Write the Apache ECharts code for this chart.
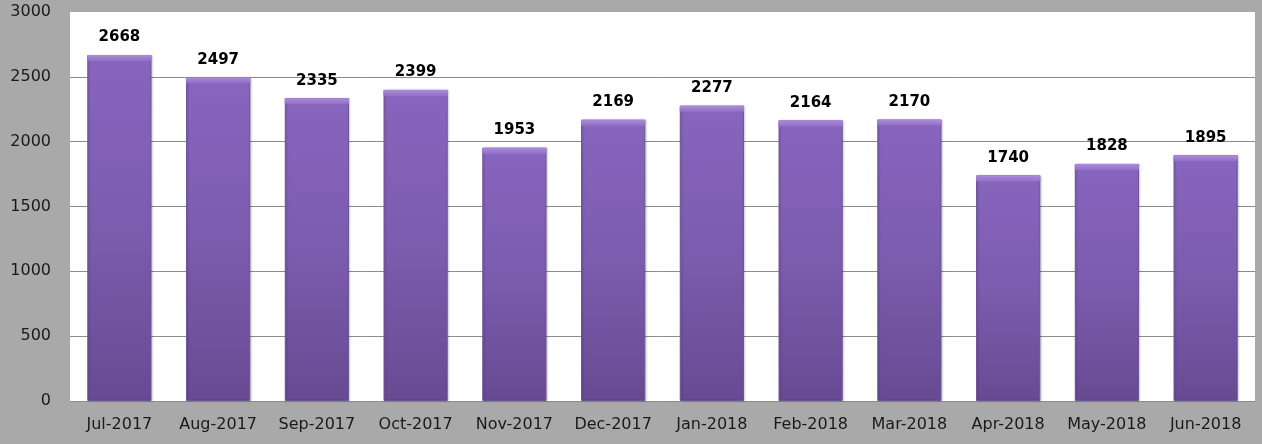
<!DOCTYPE html>
<html>
<head>
<meta charset="utf-8">
<script src="https://cdn.jsdelivr.net/npm/echarts@6/dist/echarts.min.js"></script>
<style>
  html, body { margin: 0; padding: 0; background: #a9a9a9; }
  #chart { width: 1262px; height: 444px; }
</style>
</head>
<body>
<div id="chart"></div>
<script>
// Monthly totals, July 2017 – June 2018
const months = ['Jul-2017', 'Aug-2017', 'Sep-2017', 'Oct-2017', 'Nov-2017', 'Dec-2017',
                'Jan-2018', 'Feb-2018', 'Mar-2018', 'Apr-2018', 'May-2018', 'Jun-2018'];
const totals = [2668, 2497, 2335, 2399, 1953, 2169, 2277, 2164, 2170, 1740, 1828, 1895];
const yTicks = { min: 0, max: 3000, interval: 500 };

const chart = echarts.init(document.getElementById('chart'), null, { renderer: 'canvas' });

// Purple fill, lighter at the top of each bar and darker toward the base
const barFill = new echarts.graphic.LinearGradient(0, 0, 0, 1, [
  { offset: 0, color: '#8865be' },
  { offset: 0.5, color: '#7b5cae' },
  { offset: 1, color: '#684a93' }
]);
// Light bevel strip across each bar top
const bevelFill = new echarts.graphic.LinearGradient(0, 0, 0, 1, [
  { offset: 0, color: '#ab8bdb' },
  { offset: 1, color: '#9170c6' }
]);

chart.setOption({
  backgroundColor: '#a9a9a9',
  animation: false,
  grid: {
    left: 70, right: 7, top: 12, bottom: 43,
    show: true, backgroundColor: '#ffffff', borderWidth: 0
  },
  xAxis: {
    type: 'category',
    data: months,
    axisLine: { show: false },
    axisTick: { show: false },
    axisLabel: {
      interval: 0,
      color: '#1a1a1a', fontFamily: 'DejaVu Sans', fontSize: 16, margin: 16
    }
  },
  yAxis: {
    type: 'value',
    min: yTicks.min, max: yTicks.max, interval: yTicks.interval,
    axisLine: { show: false },
    axisTick: { show: false },
    axisLabel: {
      color: '#1a1a1a', fontFamily: 'DejaVu Sans', fontSize: 16, margin: 19,
      formatter: v => String(v)
    },
    splitLine: { showMaxLine: false, lineStyle: { color: '#8c8c8c', width: 1 } }
  },
  series: [{
    type: 'bar',
    data: totals,
    barWidth: '65%',
    barGap: '-100%',
    itemStyle: {
      color: barFill,
      borderColor: '#6f5499',
      borderWidth: 1,
      shadowColor: 'rgba(0,0,0,0.2)',
      shadowBlur: 2,
      shadowOffsetX: 1,
      shadowOffsetY: 0
    },
    label: {
      show: true,
      position: 'top',
      distance: 10,
      color: '#000000',
      fontFamily: 'DejaVu Sans',
      fontWeight: 'bold',
      fontSize: 15
    },
    z: 2
  }, {
    type: 'pictorialBar',
    data: totals,
    barWidth: '65%',
    symbol: 'rect',
    symbolSize: ['100%', 6],
    symbolPosition: 'end',
    symbolOffset: [0, 0],
    itemStyle: { color: bevelFill },
    silent: true,
    z: 3
  }]
});
</script>
</body>
</html>
